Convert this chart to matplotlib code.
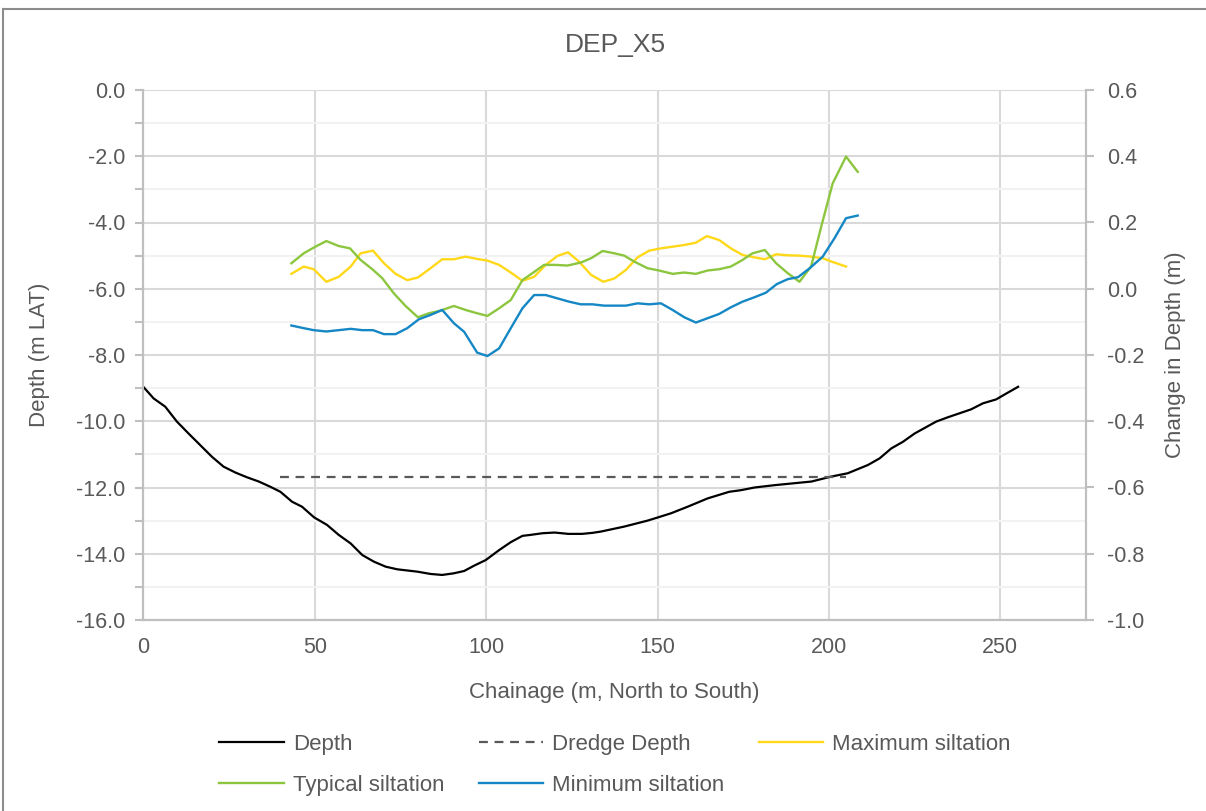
import matplotlib
matplotlib.use("Agg")
import matplotlib.pyplot as plt
from matplotlib.lines import Line2D
from matplotlib.ticker import MultipleLocator

plt.rcParams['font.family'] = ['Liberation Sans', 'DejaVu Sans']

# depth profile (m LAT)
depth_x = [0, 3.0, 6.4, 9.8, 13.2, 16.6, 20.0, 23.4, 26.9, 30.2, 33.7, 37.1, 40.0, 43.4, 46.3, 49.8,
           53.6, 57.0, 60.5, 63.9, 67.3, 70.7, 74.1, 79.9, 83.8, 87.2, 90.6, 93.6, 96.5, 99.9, 103.8,
           107.2, 110.6, 113.0, 116.5, 120.0, 124.0, 128.0, 131.0, 133.5, 140.3, 147.1, 150.2, 153.9,
           158.8, 164.6, 170.9, 174.4, 178.3, 184.1, 190.0, 194.9, 200.7, 205.5, 211.4, 214.8, 218.2,
           221.6, 225.0, 231.3, 234.7, 238.1, 241.5, 244.9, 248.8, 251.8, 255.2]
depth_v = [-8.96, -9.31, -9.56, -10.01, -10.37, -10.72, -11.07, -11.37, -11.55, -11.69, -11.82, -11.98,
           -12.13, -12.43, -12.58, -12.90, -13.13, -13.43, -13.69, -14.04, -14.24, -14.39, -14.47, -14.54,
           -14.61, -14.64, -14.59, -14.52, -14.36, -14.19, -13.89, -13.65, -13.46, -13.43, -13.38, -13.36,
           -13.40, -13.40, -13.37, -13.33, -13.18, -13.00, -12.90, -12.78, -12.58, -12.33, -12.13, -12.08,
           -12.00, -11.93, -11.87, -11.82, -11.67, -11.57, -11.32, -11.12, -10.82, -10.62, -10.37, -10.01,
           -9.88, -9.76, -9.64, -9.46, -9.34, -9.16, -8.96]

dredge_x = [40, 205]
dredge_v = [-11.67, -11.67]

# siltation (change in depth, m) - right axis
max_x = [43.2, 46.8, 49.7, 53.4, 57.0, 60.5, 63.4, 67.0, 70.2, 73.6, 77.0, 80.1, 83.8, 87.2, 90.6, 94.0,
         97.4, 100.4, 103.8, 107.2, 110.6, 114.0, 117.4, 120.8, 123.9, 127.1, 130.6, 134.2, 137.4, 140.8,
         144.2, 147.6, 151.0, 154.4, 157.8, 161.2, 164.4, 168.0, 171.4, 174.8, 178.2, 181.3, 184.6, 188.0,
         191.4, 194.8, 198.2, 201.6, 205.0]
max_v = [0.045, 0.067, 0.059, 0.021, 0.036, 0.067, 0.107, 0.115, 0.077, 0.045, 0.026, 0.034, 0.062, 0.089,
         0.089, 0.097, 0.090, 0.085, 0.072, 0.049, 0.024, 0.036, 0.072, 0.099, 0.110, 0.082, 0.042, 0.021,
         0.031, 0.057, 0.095, 0.115, 0.122, 0.127, 0.132, 0.139, 0.159, 0.147, 0.122, 0.102, 0.095, 0.089,
         0.104, 0.101, 0.100, 0.097, 0.092, 0.079, 0.067]

typ_x = [43.2, 46.8, 50.2, 53.4, 57.0, 60.3, 63.4, 66.8, 69.7, 73.1, 76.5, 80.1, 83.3, 86.7, 90.6, 94.0,
         97.4, 100.4, 103.8, 107.2, 110.6, 113.5, 116.9, 120.3, 123.7, 127.6, 130.6, 134.0, 137.4, 140.3,
         143.2, 147.1, 150.5, 154.4, 157.8, 161.2, 164.6, 168.0, 171.4, 174.8, 177.7, 181.3, 184.6, 188.0,
         191.4, 194.8, 197.9, 201.1, 205.0, 208.4]
typ_v = [0.077, 0.107, 0.127, 0.144, 0.129, 0.122, 0.087, 0.059, 0.032, -0.014, -0.052, -0.086, -0.074,
         -0.066, -0.052, -0.064, -0.074, -0.082, -0.059, -0.034, 0.026, 0.047, 0.072, 0.072, 0.070, 0.079,
         0.092, 0.114, 0.107, 0.100, 0.082, 0.062, 0.055, 0.045, 0.049, 0.045, 0.055, 0.059, 0.067, 0.087,
         0.107, 0.117, 0.077, 0.047, 0.021, 0.067, 0.193, 0.318, 0.399, 0.353]

min_x = [43.2, 46.8, 49.7, 53.4, 57.0, 60.5, 63.9, 67.0, 70.2, 73.6, 77.0, 80.4, 83.8, 87.2, 90.6, 93.6,
         97.4, 100.4, 103.8, 107.2, 110.6, 114.0, 117.4, 120.8, 124.2, 127.6, 131.0, 134.4, 137.9, 140.8,
         144.2, 147.6, 151.0, 154.4, 157.8, 161.2, 164.6, 168.0, 171.4, 174.8, 178.2, 181.6, 184.8, 188.0,
         191.0, 194.4, 198.2, 201.6, 205.0, 208.4]
min_v = [-0.111, -0.119, -0.125, -0.129, -0.125, -0.121, -0.125, -0.125, -0.137, -0.137, -0.119, -0.092,
         -0.079, -0.064, -0.104, -0.130, -0.193, -0.203, -0.180, -0.119, -0.059, -0.019, -0.019, -0.029,
         -0.039, -0.047, -0.047, -0.051, -0.051, -0.051, -0.044, -0.047, -0.044, -0.064, -0.086, -0.102,
         -0.089, -0.076, -0.056, -0.039, -0.026, -0.012, 0.014, 0.029, 0.035, 0.062, 0.097, 0.152, 0.213,
         0.221]

txt = '#595959'
spine_c = '#BFBFBF'
W, H = 1206, 811

fig = plt.figure(figsize=(W / 100, H / 100), dpi=100)
ax = fig.add_axes([143.3 / W, 1 - 620 / H, 942.7 / W, 530 / H])
ax2 = ax.twinx()

ax.plot(depth_x, depth_v, color='black', lw=1.6, label='Depth', zorder=3)
ax.plot(dredge_x, dredge_v, color='#595959', lw=1.6, ls=(0, (4, 3)), label='Dredge Depth', zorder=3)
ax2.plot(max_x, max_v, color='#FFD81A', lw=1.7, label='Maximum siltation')
ax2.plot(typ_x, typ_v, color='#8CC63E', lw=1.7, label='Typical siltation')
ax2.plot(min_x, min_v, color='#1587C4', lw=1.7, label='Minimum siltation')

ax.set_xlim(0, 275)
ax.set_ylim(-16, 0)
ax2.set_ylim(-1.0, 0.6)
ax.xaxis.set_major_locator(MultipleLocator(50))
ax.yaxis.set_major_locator(MultipleLocator(2))
ax.yaxis.set_minor_locator(MultipleLocator(1))
ax2.yaxis.set_major_locator(MultipleLocator(0.2))

ax.grid(True, which='major', color='#D9D9D9', lw=1.5, zorder=0)
ax.grid(True, which='minor', axis='y', color='#F2F2F2', lw=1.5, zorder=0)
ax.set_axisbelow(True)

ax.yaxis.set_major_formatter(plt.FuncFormatter(lambda v, p: '%.1f' % v))
ax2.yaxis.set_major_formatter(plt.FuncFormatter(lambda v, p: '%.1f' % v))

for a in (ax, ax2):
    for s in a.spines.values():
        s.set_color(spine_c)
        s.set_linewidth(1.5)
    a.spines['top'].set_visible(False)
ax.tick_params(axis='y', which='both', length=6, width=1.5, color=spine_c, labelcolor=txt,
               labelsize=15.5, pad=7)
ax.tick_params(axis='x', length=0, labelcolor=txt, labelsize=15.5, pad=12)
ax2.tick_params(axis='y', length=6, width=1.5, color=spine_c, labelcolor=txt, labelsize=15.5, pad=9)

ax.set_xlabel('Chainage (m, North to South)', color=txt, fontsize=16)
ax.set_ylabel('Depth (m LAT)', color=txt, fontsize=16)
ax2.set_ylabel('Change in Depth (m)', color=txt, fontsize=16)
ax.xaxis.set_label_coords(0.5, -0.117)
ax.yaxis.set_label_coords(-0.099, 0.5)
ax2.yaxis.set_label_coords(1.084, 0.5)

fig.text(615 / W, 1 - 45 / H, 'DEP_X5', ha='center', va='center', color=txt, fontsize=19)

h1, l1 = ax.get_legend_handles_labels()
h2, l2 = ax2.get_legend_handles_labels()
hd = dict(zip(l1 + l2, h1 + h2))
order = ['Depth', 'Typical siltation', 'Dredge Depth', 'Minimum siltation', 'Maximum siltation']
leg = fig.legend([hd[k] for k in order], order, loc='center', bbox_to_anchor=(615 / W, 1 - 765 / H),
                 ncol=3, frameon=False, fontsize=16, handlelength=2.9, handletextpad=0.4,
                 columnspacing=1.55, labelspacing=0.9)
for t in leg.get_texts():
    t.set_color(txt)

# outer chart border (only left and top edges visible in the crop)
fig.add_artist(Line2D([3 / W, 3 / W], [0, 1 - 9 / H], transform=fig.transFigure,
                      color='#8C8C8C', lw=1.5))
fig.add_artist(Line2D([3 / W, 1], [1 - 9 / H, 1 - 9 / H], transform=fig.transFigure,
                      color='#8C8C8C', lw=1.5))

fig.savefig('out.png', dpi=100)
